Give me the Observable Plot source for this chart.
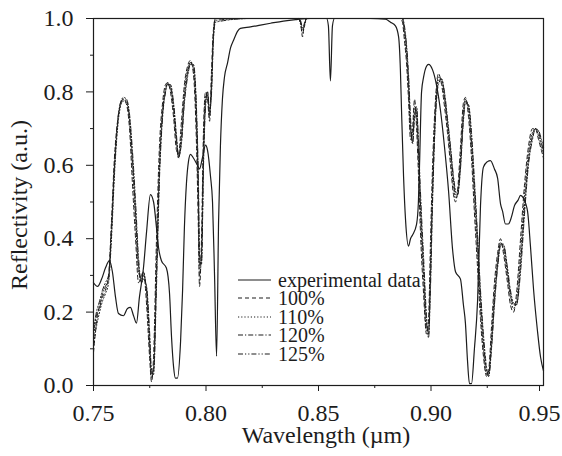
<!DOCTYPE html>
<html><head><meta charset="utf-8">
<script src="https://cdn.jsdelivr.net/npm/d3@7"></script>
<script src="https://cdn.jsdelivr.net/npm/@observablehq/plot@0.6"></script>
<style>
body{margin:0;background:#fff}
#chart{position:relative;width:562px;height:456px}
#chart svg, #chart svg text{font-family:"Liberation Serif","Times New Roman",Times,serif !important}
</style>
</head><body><div id="chart"></div>
<script>
// ---- tick labels ----
const xTicks = [0.75, 0.80, 0.85, 0.90];
const xTickLast = [0.95];
const xMinor = [0.775, 0.825, 0.875, 0.925];
const yTicks = [0.0, 0.2, 0.4, 0.6, 0.8, 1.0];
const yMinor = [0.1, 0.3, 0.5, 0.7, 0.9];
const xLabel = "Wavelength (\u00b5m)";
const yLabel = "Reflectivity (a.u.)";

// ---- experimental data (solid) ----
const expLambda = [0.7500,0.7518,0.7536,0.7553,0.7571,0.7584,0.7598,0.7611,0.7633,0.7651,0.7664,0.7678,0.7691,0.7704,0.7722,0.7736,0.7753,0.7767,0.7780,0.7789,0.7802,0.7824,0.7838,0.7847,0.7856,0.7864,0.7873,0.7887,0.7896,0.7904,0.7913,0.7922,0.7931,0.7944,0.7962,0.7971,0.7984,0.7998,0.8007,0.8020,0.8029,0.8038,0.8047,0.8056,0.8064,0.8073,0.8082,0.8096,0.8109,0.8122,0.8140,0.8153,0.8198,0.8242,0.8287,0.8344,0.8398,0.8464,0.8536,0.8544,0.8553,0.8562,0.8571,0.8731,0.8798,0.8820,0.8842,0.8856,0.8864,0.8869,0.8878,0.8887,0.8900,0.8909,0.8918,0.8936,0.8944,0.8949,0.8958,0.8967,0.8980,0.8989,0.9007,0.9024,0.9042,0.9060,0.9078,0.9096,0.9109,0.9131,0.9144,0.9153,0.9162,0.9171,0.9180,0.9193,0.9207,0.9220,0.9233,0.9251,0.9264,0.9282,0.9296,0.9309,0.9318,0.9331,0.9344,0.9358,0.9371,0.9387,0.9398,0.9411,0.9429,0.9442,0.9456,0.9473,0.9487,0.9500];
const expR = [0.28,0.27,0.29,0.32,0.34,0.31,0.24,0.196,0.19,0.21,0.213,0.19,0.17,0.24,0.32,0.42,0.52,0.50,0.43,0.376,0.34,0.32,0.25,0.13,0.05,0.02,0.02,0.12,0.26,0.43,0.55,0.61,0.63,0.62,0.60,0.59,0.62,0.655,0.64,0.57,0.50,0.30,0.08,0.45,0.65,0.78,0.84,0.88,0.92,0.94,0.965,0.973,0.977,0.982,0.987,0.993,0.997,1.0,1.0,0.98,0.83,0.98,1.0,1.0,0.998,0.99,0.98,0.95,0.86,0.75,0.57,0.45,0.38,0.40,0.41,0.44,0.50,0.60,0.80,0.84,0.87,0.875,0.86,0.82,0.75,0.65,0.53,0.37,0.31,0.29,0.22,0.17,0.07,0.005,0.005,0.10,0.23,0.49,0.595,0.61,0.613,0.59,0.565,0.495,0.475,0.44,0.44,0.46,0.49,0.505,0.518,0.51,0.475,0.38,0.26,0.15,0.077,0.04];

// ---- simulations (shared wavelength grid) ----
const simLambda = [0.7500,0.7513,0.7527,0.7540,0.7553,0.7567,0.7580,0.7593,0.7607,0.7620,0.7633,0.7647,0.7660,0.7673,0.7687,0.7700,0.7713,0.7722,0.7736,0.7749,0.7758,0.7767,0.7780,0.7793,0.7807,0.7820,0.7829,0.7842,0.7856,0.7869,0.7878,0.7891,0.7904,0.7918,0.7931,0.7944,0.7958,0.7967,0.7971,0.7980,0.7989,0.7998,0.8007,0.8016,0.8024,0.8033,0.8042,0.8198,0.8411,0.8420,0.8429,0.8438,0.8447,0.8642,0.8864,0.8873,0.8882,0.8891,0.8900,0.8909,0.8918,0.8927,0.8936,0.8944,0.8953,0.8967,0.8980,0.8989,0.8998,0.9007,0.9020,0.9033,0.9047,0.9060,0.9073,0.9087,0.9100,0.9109,0.9118,0.9131,0.9144,0.9153,0.9167,0.9180,0.9193,0.9207,0.9220,0.9233,0.9247,0.9256,0.9269,0.9282,0.9296,0.9309,0.9322,0.9340,0.9353,0.9367,0.9380,0.9398,0.9416,0.9433,0.9451,0.9464,0.9478,0.9491,0.9500];
const sim100 = [0.09,0.17,0.22,0.24,0.26,0.30,0.45,0.62,0.72,0.765,0.78,0.765,0.70,0.55,0.40,0.28,0.30,0.31,0.22,0.08,0.01,0.08,0.40,0.65,0.77,0.82,0.825,0.80,0.73,0.64,0.63,0.72,0.82,0.87,0.886,0.85,0.65,0.40,0.27,0.40,0.70,0.80,0.78,0.72,0.85,0.97,1.0,1.0,1.0,0.99,0.95,0.99,1.0,1.0,1.0,0.99,0.94,0.88,0.78,0.67,0.70,0.78,0.70,0.58,0.42,0.25,0.14,0.18,0.40,0.60,0.78,0.85,0.82,0.76,0.69,0.60,0.52,0.50,0.53,0.65,0.77,0.785,0.73,0.62,0.47,0.32,0.18,0.08,0.025,0.04,0.16,0.28,0.36,0.40,0.36,0.28,0.22,0.20,0.25,0.40,0.55,0.65,0.70,0.70,0.67,0.64,0.62];
const sim110 = [0.11,0.16,0.20,0.23,0.25,0.28,0.40,0.57,0.70,0.76,0.775,0.77,0.72,0.60,0.45,0.31,0.29,0.31,0.25,0.11,0.02,0.05,0.33,0.60,0.75,0.81,0.82,0.81,0.75,0.66,0.62,0.69,0.80,0.86,0.88,0.86,0.70,0.46,0.30,0.36,0.66,0.79,0.79,0.73,0.82,0.96,1.0,1.0,1.0,0.985,0.96,0.985,1.0,1.0,1.0,1.0,0.96,0.90,0.81,0.69,0.68,0.76,0.73,0.62,0.47,0.29,0.15,0.15,0.34,0.55,0.76,0.84,0.83,0.78,0.71,0.62,0.54,0.51,0.52,0.62,0.75,0.78,0.75,0.65,0.51,0.36,0.21,0.10,0.03,0.03,0.13,0.25,0.34,0.39,0.37,0.30,0.24,0.21,0.23,0.36,0.52,0.63,0.69,0.70,0.68,0.65,0.63];
const sim120 = [0.13,0.19,0.21,0.25,0.27,0.29,0.42,0.59,0.71,0.77,0.78,0.775,0.73,0.62,0.47,0.33,0.28,0.30,0.26,0.13,0.03,0.04,0.30,0.58,0.74,0.80,0.825,0.815,0.76,0.67,0.62,0.67,0.78,0.85,0.88,0.87,0.73,0.50,0.33,0.34,0.62,0.77,0.80,0.74,0.80,0.95,0.995,1.0,1.0,0.99,0.97,0.98,1.0,1.0,1.0,1.0,0.97,0.92,0.83,0.71,0.66,0.74,0.75,0.65,0.50,0.32,0.17,0.14,0.30,0.52,0.74,0.83,0.835,0.79,0.72,0.64,0.56,0.52,0.52,0.60,0.73,0.775,0.76,0.67,0.54,0.39,0.24,0.12,0.04,0.025,0.11,0.23,0.33,0.385,0.38,0.31,0.25,0.22,0.22,0.33,0.49,0.61,0.68,0.70,0.69,0.66,0.64];
const sim125 = [0.15,0.20,0.23,0.26,0.28,0.30,0.43,0.60,0.72,0.77,0.785,0.78,0.74,0.64,0.50,0.35,0.28,0.29,0.27,0.15,0.04,0.03,0.27,0.56,0.73,0.80,0.82,0.82,0.77,0.68,0.625,0.66,0.77,0.84,0.875,0.875,0.75,0.53,0.36,0.33,0.60,0.76,0.80,0.75,0.79,0.94,0.99,1.0,1.0,0.995,0.975,0.985,1.0,1.0,1.0,1.0,0.98,0.93,0.85,0.73,0.66,0.73,0.76,0.67,0.53,0.35,0.19,0.13,0.27,0.50,0.73,0.82,0.835,0.80,0.73,0.65,0.57,0.53,0.52,0.59,0.72,0.77,0.765,0.69,0.56,0.41,0.26,0.14,0.05,0.025,0.10,0.22,0.32,0.38,0.385,0.32,0.26,0.225,0.22,0.31,0.47,0.60,0.67,0.70,0.695,0.67,0.65];

const seriesNames = ["experimental data", "100%", "110%", "120%", "125%"];

// ---- build tables ----
const styleOf = {
  "experimental data": "none",
  "100%": "4,3",
  "110%": "1.2,2",
  "120%": "5,2,1.2,2",
  "125%": "5,2,1.2,2,1.2,2"
};
const series = [
  {name: seriesNames[0], rows: expLambda.map((l, i) => ({l, r: expR[i]}))},
  {name: seriesNames[1], rows: simLambda.map((l, i) => ({l, r: sim100[i]}))},
  {name: seriesNames[2], rows: simLambda.map((l, i) => ({l, r: sim110[i]}))},
  {name: seriesNames[3], rows: simLambda.map((l, i) => ({l, r: sim120[i]}))},
  {name: seriesNames[4], rows: simLambda.map((l, i) => ({l, r: sim125[i]}))}
];
const ink = "#1c1c1c";
const serif = "'Liberation Serif','Times New Roman',Times,serif";

const plot = Plot.plot({
  width: 562, height: 456,
  marginLeft: 93, marginRight: 19, marginTop: 18, marginBottom: 71,
  style: {fontFamily: serif, fontSize: "24px", color: ink, background: "#fff"},
  x: {domain: [0.75, 0.95]},
  y: {domain: [0, 1]},
  marks: [
    ...series.slice().reverse().map(s => Plot.line(s.rows, {
      x: "l", y: "r", stroke: ink, strokeWidth: s.name === "experimental data" ? 1.2 : 1.0,
      strokeDasharray: styleOf[s.name], curve: "monotone-x"
    })),
    Plot.frame({stroke: ink, strokeWidth: 1.2}),
    Plot.axisX(xTicks, {tickSize: 6, tickPadding: 12, tickFormat: d3.format(".2f"), label: null, stroke: ink}),
    Plot.axisX(xTickLast, {tickSize: 6, tickPadding: 12, tickFormat: d3.format(".2f"), label: null, stroke: ink, dx: -4}),
    Plot.axisX(xMinor, {tickSize: 3, tickFormat: () => "", label: null, stroke: ink}),
    Plot.axisY(yTicks, {tickSize: 7, tickPadding: 13, tickFormat: d3.format(".1f"), label: null, stroke: ink}),
    Plot.axisY(yMinor, {tickSize: 3, tickFormat: () => "", label: null, stroke: ink})
  ]
});
document.getElementById("chart").appendChild(plot);

// ---- axis titles and legend (layout) ----
const svg = d3.select(plot);
svg.append("text").attr("x", 326).attr("y", 443).attr("text-anchor", "middle")
  .attr("fill", ink).style("font-family", serif).style("font-size", "24px").text(xLabel);
svg.append("text").attr("transform", "translate(27,205) rotate(-90)").attr("text-anchor", "middle")
  .attr("fill", ink).style("font-family", serif).style("font-size", "24px").text(yLabel);

const rowY = [280, 298, 317, 335, 354];
const lg = svg.append("g").attr("class", "legend");
seriesNames.forEach((n, i) => {
  lg.append("line").attr("x1", 238).attr("x2", 271).attr("y1", rowY[i]).attr("y2", rowY[i])
    .attr("stroke", ink).attr("stroke-width", 1.1).attr("stroke-dasharray", styleOf[n]);
  lg.append("text").attr("x", 278).attr("y", rowY[i] + 7).attr("fill", ink)
    .attr("text-anchor", "start").style("font-family", serif)
    .style("font-size", "20px").text(n);
});
</script>
</body></html>
